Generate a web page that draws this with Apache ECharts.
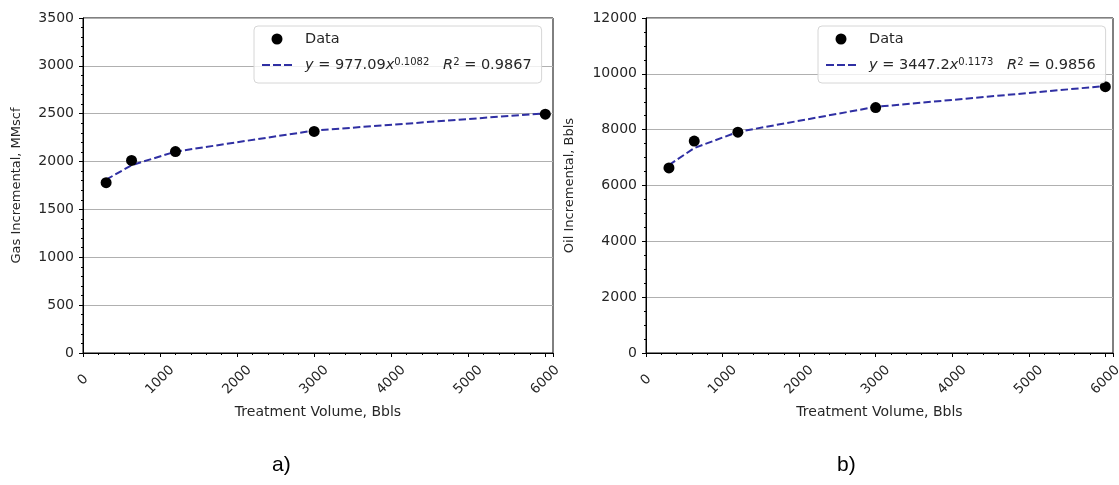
<!DOCTYPE html>
<html>
<head>
<meta charset="utf-8">
<script src="https://cdn.jsdelivr.net/npm/echarts@6/dist/echarts.min.js"></script>
<style>
html,body{margin:0;padding:0;background:#fff;}
#c{width:1119px;height:485px;}
</style>
</head>
<body>
<div id="c"></div>
<script>
// Data
const treatmentVolume = [300, 630, 1200, 3000, 6000];
const gasData = [1780, 2012, 2105, 2315, 2495];
const gasFit = [1811, 1962, 2104, 2324, 2505];
const oilData = [6630, 7590, 7910, 8790, 9540];
const oilFit = [6731, 7342, 7919, 8817, 9565];
const xTicks = [0, 1000, 2000, 3000, 4000, 5000, 6000];
const gasTicks = [0, 500, 1000, 1500, 2000, 2500, 3000, 3500];
const oilTicks = [0, 2000, 4000, 6000, 8000, 10000, 12000];
const gasFitLabel = ['977.09', '0.1082', '0.9867'];
const oilFitLabel = ['3447.2', '0.1173', '0.9856'];
const panelCaptions = ['a)', 'b)'];

const pairs = (xs, ys) => xs.map((x, i) => [x, ys[i]]);
const FONT = 'DejaVu Sans';
const TXT = '#262626';
const FITC = '#2f2fa3';
const DASH_ICON = 'path://M0,0h8v2h-8z M11,0h8v2h-8z M22,0h8v2h-8z';

function xAxisCfg(gi) {
  return {
    gridIndex: gi, type: 'value', min: xTicks[0], max: 6100, interval: xTicks[1] - xTicks[0],
    name: 'Treatment Volume, Bbls', nameLocation: 'middle', nameGap: 52,
    nameTextStyle: {fontFamily: FONT, fontSize: 14, color: TXT},
    axisLine: {show: true, lineStyle: {color: '#000', width: 1}},
    axisTick: {show: true, inside: false, length: 4, lineStyle: {color: '#000'}},
    minorTick: {show: true, splitNumber: 5, length: 2, lineStyle: {color: '#000'}},
    splitLine: {show: false},
    axisLabel: {
      rotate: 45, align: 'center', verticalAlign: 'middle',
      fontFamily: FONT, fontSize: 13.5, color: TXT, margin: 27,
      formatter: v => (xTicks.indexOf(v) >= 0 ? String(v) : '')
    }
  };
}
function yAxisCfg(gi, ticks, name, minorN, gap) {
  return {
    gridIndex: gi, type: 'value', min: ticks[0], max: ticks[ticks.length - 1], interval: ticks[1] - ticks[0],
    name: name, nameLocation: 'middle', nameGap: gap,
    nameTextStyle: {fontFamily: FONT, fontSize: 13, color: TXT},
    axisLine: {show: true, lineStyle: {color: '#000', width: 1}},
    axisTick: {show: true, inside: false, length: 4, lineStyle: {color: '#000'}},
    minorTick: {show: true, splitNumber: minorN, length: 2, lineStyle: {color: '#000'}},
    splitLine: {show: true, lineStyle: {color: '#b0b0b0', width: 1}},
    axisLabel: {fontFamily: FONT, fontSize: 14, color: TXT, margin: 9, formatter: v => String(v)}
  };
}
function fitName(lbl) {
  return '{i|y} = ' + lbl[0] + '{i|x}{s|' + lbl[1] + '}   {i|R}{s|2} = ' + lbl[2];
}
const richCfg = {
  i: {fontFamily: FONT, fontStyle: 'italic', fontSize: 14.5, color: TXT, lineHeight: 16},
  s: {fontFamily: FONT, fontSize: 10, color: TXT, verticalAlign: 'top', lineHeight: 16},
};

function legendCfg(idx, left, names) {
  return {
    orient: 'vertical', left: left, top: 26,
    padding: [5, 10, 10, 8], itemGap: 10, itemWidth: 30, itemHeight: 11,
    symbolKeepAspect: true,
    backgroundColor: 'rgba(255,255,255,0.8)', borderColor: '#d6d6d6', borderWidth: 1, borderRadius: 4,
    data: [
      {name: names[0], icon: 'circle', itemStyle: {color: '#000', opacity: 1, borderWidth: 0}},
      {name: names[1], icon: DASH_ICON, itemStyle: {color: FITC, opacity: 1, borderWidth: 0}}
    ],
    textStyle: {fontFamily: FONT, fontSize: 14.5, color: TXT, rich: richCfg, padding: [0, 0, 0, 8], lineHeight: 16},
    formatter: n => (n.indexOf('fit') === 0 ? fitName(idx === 0 ? gasFitLabel : oilFitLabel) : 'Data'),
  };
}

const chart = echarts.init(document.getElementById('c'), null, {renderer: 'canvas'});
chart.setOption({
  animation: false,
  backgroundColor: '#fff',
  grid: [
    {left: 83, top: 18, width: 470, height: 335, outerBoundsMode: 'none', containLabel: false,
     show: true, borderColor: '#000', borderWidth: 1, backgroundColor: 'transparent'},
    {left: 646, top: 18, width: 467, height: 335, outerBoundsMode: 'none', containLabel: false,
     show: true, borderColor: '#000', borderWidth: 1, backgroundColor: 'transparent'}
  ],
  xAxis: [xAxisCfg(0), xAxisCfg(1)],
  yAxis: [yAxisCfg(0, gasTicks, 'Gas Incremental, MMscf', 5, 60), yAxisCfg(1, oilTicks, 'Oil Incremental, Bbls', 4, 70)],
  legend: [legendCfg(0, 254, ['Data a', 'fit a']), legendCfg(1, 818, ['Data b', 'fit b'])],
  series: [
    {name: 'fit a', type: 'line', xAxisIndex: 0, yAxisIndex: 0, data: pairs(treatmentVolume, gasFit),
     symbol: 'none', lineStyle: {color: FITC, width: 2, type: [7.4, 3.2]}, itemStyle: {color: FITC}, z: 2},
    {name: 'Data a', type: 'scatter', xAxisIndex: 0, yAxisIndex: 0, data: pairs(treatmentVolume, gasData),
     symbol: 'circle', symbolSize: 11, itemStyle: {color: '#000', opacity: 1}, z: 3},
    {name: 'fit b', type: 'line', xAxisIndex: 1, yAxisIndex: 1, data: pairs(treatmentVolume, oilFit),
     symbol: 'none', lineStyle: {color: FITC, width: 2, type: [7.4, 3.2]}, itemStyle: {color: FITC}, z: 2},
    {name: 'Data b', type: 'scatter', xAxisIndex: 1, yAxisIndex: 1, data: pairs(treatmentVolume, oilData),
     symbol: 'circle', symbolSize: 11, itemStyle: {color: '#000', opacity: 1}, z: 3}
  ],
  graphic: [
    {type: 'text', left: 272, top: 455, style: {text: panelCaptions[0], font: '21px "Liberation Sans", Arial, sans-serif', fill: '#000'}},
    {type: 'text', left: 837, top: 455, style: {text: panelCaptions[1], font: '21px "Liberation Sans", Arial, sans-serif', fill: '#000'}}
  ]
});
</script>
</body>
</html>
